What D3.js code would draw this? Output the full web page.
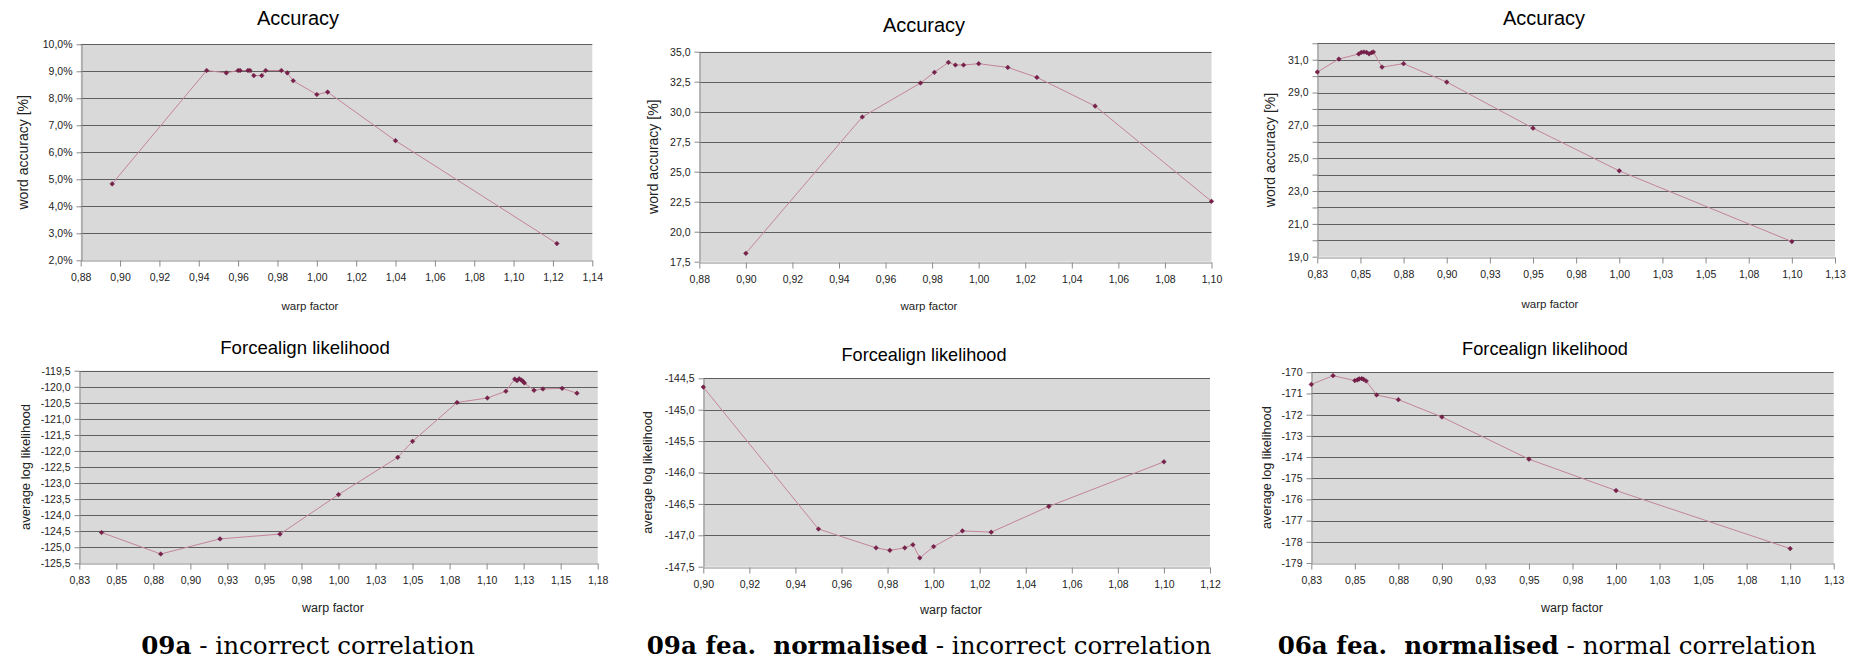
<!DOCTYPE html>
<html>
<head>
<meta charset="utf-8">
<script src="https://cdn.jsdelivr.net/npm/d3@7"></script>
<style>
  html, body { margin: 0; padding: 0; background: #ffffff; }
  svg { display: block; }
</style>
</head>
<body>
<svg id="fig" width="1868" height="663"></svg>
<script>
// ---------- data: warp factor vs. word accuracy / forced-alignment likelihood ----------

// 09a : accuracy
const warp09aAcc = [0.896, 0.944, 0.954, 0.960, 0.961, 0.965, 0.966, 0.968, 0.972, 0.974, 0.982, 0.985, 0.988, 1.000, 1.0055, 1.040, 1.122];
const acc09a     = [4.83, 9.03, 8.94, 9.03, 9.03, 9.03, 9.03, 8.84, 8.84, 9.03, 9.03, 8.94, 8.65, 8.14, 8.23, 6.43, 2.62];

// 09a : forced-alignment likelihood
const warp09aFa = [0.840, 0.880, 0.920, 0.9605, 1.000, 1.040, 1.050, 1.080, 1.1005, 1.113, 1.119, 1.1205, 1.122, 1.1233, 1.1243, 1.1255, 1.132, 1.138, 1.151, 1.161];
const fa09a     = [-124.54, -125.21, -124.74, -124.59, -123.36, -122.20, -121.70, -120.49, -120.35, -120.14, -119.76, -119.81, -119.75, -119.79, -119.82, -119.88, -120.11, -120.07, -120.05, -120.20];

// 09a, normalised features : accuracy
const warp09aNormAcc = [0.900, 0.950, 0.975, 0.981, 0.987, 0.990, 0.9935, 1.000, 1.0125, 1.025, 1.050, 1.100];
const acc09aNorm     = [18.2, 29.56, 32.39, 33.28, 34.11, 33.89, 33.89, 34.0, 33.69, 32.86, 30.47, 22.53];

// 09a, normalised features : forced-alignment likelihood
const warp09aNormFa = [0.900, 0.950, 0.975, 0.981, 0.9875, 0.991, 0.994, 1.000, 1.0125, 1.025, 1.050, 1.100];
const fa09aNorm     = [-144.64, -146.90, -147.20, -147.24, -147.20, -147.15, -147.36, -147.18, -146.93, -146.95, -146.54, -145.83];

// 06a, normalised features : accuracy
const warp06aNormAcc = [0.825, 0.8375, 0.849, 0.8505, 0.852, 0.8535, 0.855, 0.8565, 0.8575, 0.8625, 0.875, 0.900, 0.950, 1.000, 1.100];
const acc06aNorm     = [30.25, 31.04, 31.35, 31.45, 31.47, 31.45, 31.36, 31.43, 31.47, 30.55, 30.76, 29.64, 26.83, 24.23, 19.92];

// 06a, normalised features : forced-alignment likelihood
const warp06aNormFa = [0.825, 0.8375, 0.850, 0.8515, 0.8525, 0.854, 0.855, 0.8565, 0.8625, 0.875, 0.900, 0.950, 1.000, 1.100];
const fa06aNorm     = [-170.57, -170.16, -170.39, -170.36, -170.31, -170.30, -170.33, -170.41, -171.07, -171.29, -172.11, -174.10, -175.58, -178.32];

// ---------- axis ticks ----------
const xTicks09aAcc  = [0.88, 0.90, 0.92, 0.94, 0.96, 0.98, 1.00, 1.02, 1.04, 1.06, 1.08, 1.10, 1.12, 1.14];
const xLabels09aAcc = ["0,88", "0,90", "0,92", "0,94", "0,96", "0,98", "1,00", "1,02", "1,04", "1,06", "1,08", "1,10", "1,12", "1,14"];

const xTicksNormAcc  = [0.88, 0.90, 0.92, 0.94, 0.96, 0.98, 1.00, 1.02, 1.04, 1.06, 1.08, 1.10];
const xLabelsNormAcc = ["0,88", "0,90", "0,92", "0,94", "0,96", "0,98", "1,00", "1,02", "1,04", "1,06", "1,08", "1,10"];

const xTicksQuarter  = [0.825, 0.85, 0.875, 0.90, 0.925, 0.95, 0.975, 1.00, 1.025, 1.05, 1.075, 1.10, 1.125];
const xLabelsQuarter = ["0,83", "0,85", "0,88", "0,90", "0,93", "0,95", "0,98", "1,00", "1,03", "1,05", "1,08", "1,10", "1,13"];

const xTicks09aFa  = [0.825, 0.85, 0.875, 0.90, 0.925, 0.95, 0.975, 1.00, 1.025, 1.05, 1.075, 1.10, 1.125, 1.15, 1.175];
const xLabels09aFa = ["0,83", "0,85", "0,88", "0,90", "0,93", "0,95", "0,98", "1,00", "1,03", "1,05", "1,08", "1,10", "1,13", "1,15", "1,18"];

const xTicksNormFa  = [0.90, 0.92, 0.94, 0.96, 0.98, 1.00, 1.02, 1.04, 1.06, 1.08, 1.10, 1.12];
const xLabelsNormFa = ["0,90", "0,92", "0,94", "0,96", "0,98", "1,00", "1,02", "1,04", "1,06", "1,08", "1,10", "1,12"];

const yTicks09aAcc   = [2, 3, 4, 5, 6, 7, 8, 9, 10];
const yTicksNormAcc  = [17.5, 20, 22.5, 25, 27.5, 30, 32.5, 35];
const yGrid06aAcc    = [19, 20, 21, 22, 23, 24, 25, 26, 27, 28, 29, 30, 31, 32];
const yLabels06aAcc  = [19, 21, 23, 25, 27, 29, 31];
const yTicks09aFa    = [-125.5, -125, -124.5, -124, -123.5, -123, -122.5, -122, -121.5, -121, -120.5, -120, -119.5];
const yTicksNormFa   = [-147.5, -147, -146.5, -146, -145.5, -145, -144.5];
const yTicks06aFa    = [-179, -178, -177, -176, -175, -174, -173, -172, -171, -170];

const comma1 = v => v.toFixed(1).replace(".", ",");
const pct1   = v => comma1(v) + "%";
const int0   = v => String(Math.round(v));

// ---------- style ----------
const SANS = "'Liberation Sans', Arial, Helvetica, sans-serif";
const SERIF = "'DejaVu Serif', 'Liberation Serif', serif";
const PLOT_BG = "#d9d9d9";
const GRID = "#5e5e5e";
const AXIS = "#8a8a8a";
const LINE = "#c3849a";
const MARK = "#7b1f4c";
const TEXT = "#222222";

const svg = d3.select("#fig");

const panels = [
  { box: {l: 80.7, r: 592.3, t: 44.3, b: 260.3},
    xs: warp09aAcc, ys: acc09a, xDom: [0.88, 1.14], yDom: [2, 10],
    xTicks: xTicks09aAcc, xLabels: xLabels09aAcc,
    yGrid: yTicks09aAcc, yLabels: yTicks09aAcc, yFmt: pct1,
    title: "Accuracy", titleSize: 20, titleX: 298, titleY: 25,
    yTitle: "word accuracy [%]", yTitleSize: 14, yTitleX: 23,
    xTitleX: 310, xTitleY: 310, xTitleSize: 11.5 },
  { box: {l: 699.3, r: 1211.5, t: 51.7, b: 261.7},
    xs: warp09aNormAcc, ys: acc09aNorm, xDom: [0.88, 1.10], yDom: [17.5, 35],
    xTicks: xTicksNormAcc, xLabels: xLabelsNormAcc,
    yGrid: yTicksNormAcc, yLabels: yTicksNormAcc, yFmt: comma1,
    title: "Accuracy", titleSize: 20, titleX: 924, titleY: 32,
    yTitle: "word accuracy [%]", yTitleSize: 14, yTitleX: 653,
    xTitleX: 929, xTitleY: 310, xTitleSize: 11.5 },
  { box: {l: 1317.3, r: 1835, t: 43.3, b: 256.7},
    xs: warp06aNormAcc, ys: acc06aNorm, xDom: [0.825, 1.125], yDom: [19, 32],
    xTicks: xTicksQuarter, xLabels: xLabelsQuarter,
    yGrid: yGrid06aAcc, yLabels: yLabels06aAcc, yFmt: comma1,
    title: "Accuracy", titleSize: 20, titleX: 1544, titleY: 25,
    yTitle: "word accuracy [%]", yTitleSize: 14, yTitleX: 1270,
    xTitleX: 1550, xTitleY: 308, xTitleSize: 11.5 },
  { box: {l: 79.3, r: 597.7, t: 370.7, b: 563.3},
    xs: warp09aFa, ys: fa09a, xDom: [0.825, 1.175], yDom: [-125.5, -119.5],
    xTicks: xTicks09aFa, xLabels: xLabels09aFa,
    yGrid: yTicks09aFa, yLabels: yTicks09aFa, yFmt: comma1,
    title: "Forcealign likelihood", titleSize: 18.6, titleX: 305, titleY: 354,
    yTitle: "average log likelihood", yTitleSize: 13, yTitleX: 25,
    xTitleX: 333, xTitleY: 612, xTitleSize: 12.5 },
  { box: {l: 703.3, r: 1210, t: 378.3, b: 566.7},
    xs: warp09aNormFa, ys: fa09aNorm, xDom: [0.90, 1.12], yDom: [-147.5, -144.5],
    xTicks: xTicksNormFa, xLabels: xLabelsNormFa,
    yGrid: yTicksNormFa, yLabels: yTicksNormFa, yFmt: comma1,
    title: "Forcealign likelihood", titleSize: 18.1, titleX: 924, titleY: 361,
    yTitle: "average log likelihood", yTitleSize: 12.7, yTitleX: 648,
    xTitleX: 951, xTitleY: 614, xTitleSize: 12.5 },
  { box: {l: 1311.3, r: 1833.7, t: 372.3, b: 563},
    xs: warp06aNormFa, ys: fa06aNorm, xDom: [0.825, 1.125], yDom: [-179, -170],
    xTicks: xTicksQuarter, xLabels: xLabelsQuarter,
    yGrid: yTicks06aFa, yLabels: yTicks06aFa, yFmt: int0,
    title: "Forcealign likelihood", titleSize: 18.2, titleX: 1545, titleY: 355,
    yTitle: "average log likelihood", yTitleSize: 12.7, yTitleX: 1267,
    xTitleX: 1572, xTitleY: 612, xTitleSize: 12.5 }
];

function drawPanel(p) {
  const g = svg.append("g");
  const {l, r, t, b} = p.box;
  const x = d3.scaleLinear().domain(p.xDom).range([l, r]);
  const y = d3.scaleLinear().domain(p.yDom).range([b, t]);

  // plot area
  g.append("rect").attr("x", l).attr("y", t).attr("width", r - l).attr("height", b - t)
    .attr("fill", PLOT_BG);

  // horizontal gridlines
  g.append("g").selectAll("line")
    .data(p.yGrid.filter(v => v !== p.yDom[0]))
    .join("line")
      .attr("x1", l).attr("x2", r)
      .attr("y1", d => Math.round(y(d)) + 0.5).attr("y2", d => Math.round(y(d)) + 0.5)
      .attr("stroke", GRID).attr("stroke-width", 1);

  // x axis
  const xAxis = d3.axisBottom(x)
    .tickValues(p.xTicks)
    .tickFormat((d, i) => p.xLabels[i])
    .tickSize(6).tickSizeOuter(0).tickPadding(7);
  const gx = g.append("g").attr("transform", `translate(0,${Math.round(b) + 0.5})`).call(xAxis);
  gx.select(".domain").attr("stroke", AXIS);
  gx.selectAll(".tick line").attr("stroke", AXIS);
  gx.selectAll(".tick text").attr("fill", TEXT).style("font-family", SANS).style("font-size", "10.5px");

  // y axis
  const yAxis = d3.axisLeft(y)
    .tickValues(p.yGrid)
    .tickFormat(d => p.yLabels.includes(d) ? p.yFmt(d) : "")
    .tickSize(5).tickSizeOuter(0).tickPadding(4);
  const gy = g.append("g").attr("transform", `translate(${Math.round(l) + 0.5},0)`).call(yAxis);
  gy.select(".domain").attr("stroke", AXIS);
  gy.selectAll(".tick line").attr("stroke", AXIS);
  gy.selectAll(".tick text").attr("fill", TEXT).style("font-family", SANS).style("font-size", "10.5px");

  // series
  const pts = p.xs.map((v, i) => [v, p.ys[i]]);
  g.append("path")
    .datum(pts)
    .attr("fill", "none")
    .attr("stroke", LINE)
    .attr("stroke-width", 1)
    .attr("d", d3.line().x(d => x(d[0])).y(d => y(d[1])));

  const marker = d3.symbol().type(d3.symbolSquare).size(11);
  g.append("g").selectAll("path")
    .data(pts)
    .join("path")
      .attr("d", marker)
      .attr("transform", d => `translate(${x(d[0])},${y(d[1])}) rotate(45)`)
      .attr("fill", MARK)
      .attr("stroke", "#5a1638").attr("stroke-width", 0.4);

  // titles
  g.append("text")
    .attr("x", p.titleX).attr("y", p.titleY)
    .attr("text-anchor", "middle")
    .style("font-family", SANS).style("font-size", p.titleSize + "px")
    .attr("fill", "#000")
    .text(p.title);

  g.append("text")
    .attr("transform", `translate(${p.yTitleX},${(t + b) / 2}) rotate(-90)`)
    .attr("text-anchor", "middle").attr("dy", "0.35em")
    .style("font-family", SANS).style("font-size", p.yTitleSize + "px")
    .attr("fill", TEXT)
    .text(p.yTitle);

  g.append("text")
    .attr("x", p.xTitleX).attr("y", p.xTitleY)
    .attr("text-anchor", "middle")
    .style("font-family", SANS).style("font-size", p.xTitleSize + "px")
    .attr("fill", TEXT)
    .text("warp factor");
}

panels.forEach(drawPanel);

// ---------- column captions ----------
const captions = [
  { x: 308,  bold: "09a",                   rest: " - incorrect correlation" },
  { x: 929,  bold: "09a fea.\u00A0 normalised", rest: " - incorrect correlation" },
  { x: 1547, bold: "06a fea.\u00A0 normalised", rest: " - normal correlation" }
];

captions.forEach(c => {
  const txt = svg.append("text")
    .attr("x", c.x).attr("y", 654)
    .attr("text-anchor", "middle")
    .style("font-family", SERIF).style("font-size", "24.6px")
    .attr("fill", "#000");
  txt.append("tspan").style("font-weight", "bold").text(c.bold);
  txt.append("tspan").text(c.rest);
});
</script>
</body>
</html>
